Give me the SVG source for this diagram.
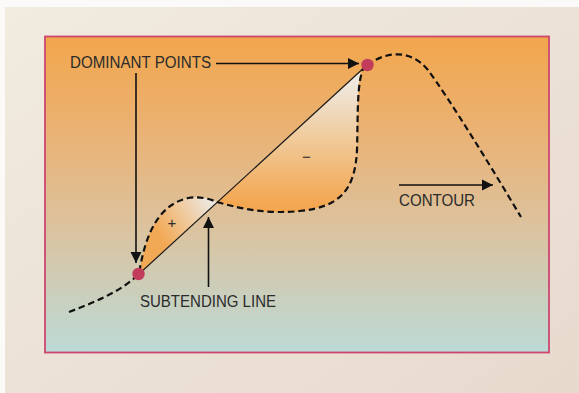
<svg xmlns="http://www.w3.org/2000/svg" width="579" height="393" viewBox="0 0 579 393">
  <defs>
    <linearGradient id="outerBg" x1="0" y1="0" x2="1" y2="1">
      <stop offset="0" stop-color="#f1ebe0"/>
      <stop offset="1" stop-color="#e8d9cd"/>
    </linearGradient>
    <linearGradient id="panelBg" x1="0" y1="0" x2="0" y2="1">
      <stop offset="0" stop-color="#f2a64c"/>
      <stop offset="0.3" stop-color="#eab274"/>
      <stop offset="0.6" stop-color="#dcc29e"/>
      <stop offset="1" stop-color="#bcdad6"/>
    </linearGradient>
    <linearGradient id="plusFill" gradientUnits="userSpaceOnUse" x1="160" y1="235" x2="212" y2="205">
      <stop offset="0" stop-color="#f2a955"/>
      <stop offset="1" stop-color="#ede7df"/>
    </linearGradient>
    <linearGradient id="minusFill" gradientUnits="userSpaceOnUse" x1="0" y1="80" x2="0" y2="205">
      <stop offset="0" stop-color="#efeae3"/>
      <stop offset="0.5" stop-color="#f0c896"/>
      <stop offset="1" stop-color="#f4a650"/>
    </linearGradient>
    <marker id="arrow" markerUnits="userSpaceOnUse" markerWidth="12" markerHeight="12" refX="11" refY="6" orient="auto">
      <path d="M0,0.5 L11,6 L0,11.5 Z" fill="#111"/>
    </marker>
    <style>
      .label { font-family: "Liberation Sans", Arial, sans-serif; font-size: 16px; fill: #2b2b2b; }
      .sign { font-family: "Liberation Sans", Arial, sans-serif; font-size: 15px; fill: #2b2b2b; text-anchor: middle; }
      .contour { fill: none; stroke: #111; stroke-width: 2.2; stroke-dasharray: 6.5 3.8; }
      .pointer { fill: none; stroke: #111; stroke-width: 1.6; marker-end: url(#arrow); }
      .dot { fill: #c23c5c; }
    </style>
  </defs>

  <rect x="0" y="0" width="579" height="393" fill="#fbfaf8"/>
  <rect x="5" y="7" width="574" height="386" fill="url(#outerBg)"/>

  <g id="panel">
    <rect x="45" y="36.5" width="504" height="316" fill="url(#panelBg)" stroke="#cc4670" stroke-width="1.8"/>
  </g>

  <g id="areas">
    <path id="area-plus" d="M139,274 C145,235 158,205 188,198 C200,196 210,199 217,202 Z" fill="url(#plusFill)"/>
    <path id="area-minus" d="M217,202 C245,210 270,214 300,211 C340,207 355,190 357,150 C358,110 357,85 361,71 Z" fill="url(#minusFill)"/>
  </g>

  <g id="connectors">
    <line id="subtending-line" x1="139" y1="274" x2="367" y2="65" stroke="#1a1a1a" stroke-width="1.2"/>
    <path id="contour-curve" class="contour" d="M69,312 C95,302 120,292 139,274 C145,235 158,205 188,198 C200,196 210,199 217,202 C245,210 270,214 300,211 C340,207 355,190 357,150 C358,110 357,85 363,69"/>
    <path id="contour-tail" class="contour" d="M367,65 C385,52 410,48 428,70 C450,100 490,165 521,217"/>
    <line class="pointer" x1="216" y1="63.5" x2="359" y2="63.5"/>
    <line class="pointer" x1="136" y1="73" x2="136" y2="263"/>
    <line class="pointer" x1="208.5" y1="287" x2="208.5" y2="217"/>
    <line class="pointer" x1="399" y1="185" x2="493" y2="185"/>
  </g>

  <g id="dominant-point-low">
    <circle class="dot" cx="138.5" cy="274" r="6.2"/>
  </g>
  <g id="dominant-point-high">
    <circle class="dot" cx="367.5" cy="65" r="6.2"/>
  </g>

  <g id="label-dominant">
    <text class="label" x="70" y="68" textLength="141" lengthAdjust="spacingAndGlyphs">DOMINANT POINTS</text>
  </g>
  <g id="label-subtending">
    <text class="label" x="140" y="307" textLength="136" lengthAdjust="spacingAndGlyphs">SUBTENDING LINE</text>
  </g>
  <g id="label-contour">
    <text class="label" x="399" y="206" textLength="76" lengthAdjust="spacingAndGlyphs">CONTOUR</text>
  </g>
  <g id="sign-plus">
    <text class="sign" x="172" y="228">+</text>
  </g>
  <g id="sign-minus">
    <text class="sign" x="306.5" y="162">−</text>
  </g>
</svg>
